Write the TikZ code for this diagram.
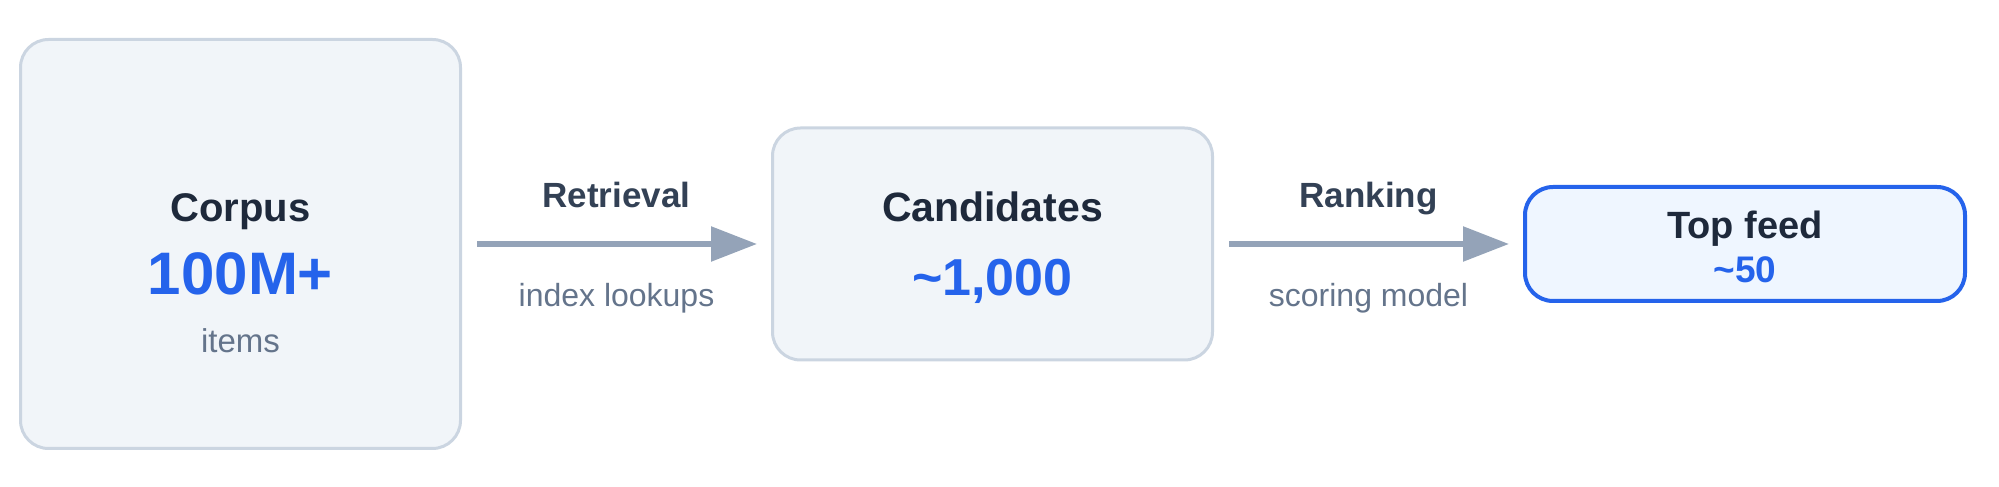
\documentclass[tikz,border=0pt]{standalone}
\usepackage{fontspec}
\setmainfont{Liberation Sans}
\usepackage{xcolor}
\usetikzlibrary{arrows.meta,positioning,calc}

\definecolor{inkdark}{HTML}{1E293B}
\definecolor{inklabel}{HTML}{334155}
\definecolor{inkmuted}{HTML}{64748B}
\definecolor{accent}{HTML}{2563EB}
\definecolor{accentfill}{HTML}{EFF6FF}
\definecolor{boxfill}{HTML}{F1F5F9}
\definecolor{boxline}{HTML}{CBD5E1}
\definecolor{arrowgray}{HTML}{94A3B8}

\begin{document}
\begin{tikzpicture}[node distance=154.5pt, auto, >=Triangle]
    \tikzstyle{stage} = [rectangle, draw=boxline, fill=boxfill, line width=1.5pt, rounded corners=14pt, minimum width=220pt, inner sep=0pt]
    \tikzstyle{final} = [stage, draw=accent, fill=accentfill, line width=2pt]
    \tikzstyle{title} = [inner sep=0pt, anchor=base, text=inkdark, font=\bfseries\fontsize{20.5}{24}\selectfont]
    \tikzstyle{count} = [inner sep=0pt, anchor=base, text=accent, font=\bfseries\fontsize{26}{30}\selectfont]
    \tikzstyle{note} = [inner sep=0pt, anchor=base, text=inkmuted, font=\fontsize{16.5}{20}\selectfont]
    \tikzstyle{steplabel} = [inner sep=0pt, anchor=base, text=inklabel, font=\bfseries\fontsize{17.5}{21}\selectfont]
    \tikzstyle{stepnote} = [inner sep=0pt, anchor=base, text=inkmuted, font=\fontsize{16}{19}\selectfont]
    \tikzstyle{arrow} = [draw=arrowgray, line width=2.8pt, -{Triangle[length=23pt, width=17pt]}, shorten <=7.5pt, shorten >=7pt]

    \useasboundingbox (0,0) rectangle (999.5pt,243.5pt);

    % Nodes
    \node [stage, minimum height=204.5pt] (corpus) at (120.25pt,121.5pt) {};
    \node [stage, minimum height=116pt, right=of corpus] (cand) {};
    \node [final, minimum height=57pt, right=of cand] (top) {};

    % Texts in the boxes
    \node [title, font=\bfseries\fontsize{20}{24}\selectfont] (corpustitle) at ($(corpus.center)+(0,11pt)$) {Corpus};
    \node [count, font=\bfseries\fontsize{30}{34}\selectfont] (corpuscount) at ($(corpus.center)+(0,-25.5pt)$) {100M+};
    \node [note] (corpusnote) at ($(corpus.center)+(0,-54.5pt)$) {items};
    \node [title] (candtitle) at ($(cand.center)+(0,11pt)$) {Candidates};
    \node [count] (candcount) at ($(cand.center)+(0,-25.75pt)$) {\textasciitilde 1,000};
    \node [title, font=\bfseries\fontsize{19}{23}\selectfont] (toptitle) at ($(top.center)+(0,2.5pt)$) {Top feed};
    \node [count, font=\bfseries\fontsize{18.5}{22}\selectfont] (topcount) at ($(top.center)+(0,-19.5pt)$) {\textasciitilde 50};

    % Edges
    \draw [arrow] (corpus) -- (cand)
        node [steplabel, midway, yshift=18pt] (retlabel) {Retrieval}
        node [stepnote, midway, yshift=-31.5pt] (retnote) {index lookups};
    \draw [arrow] (cand) -- (top)
        node [steplabel, midway, yshift=18pt] (ranklabel) {Ranking}
        node [stepnote, midway, yshift=-31.5pt] (ranknote) {scoring model};
\end{tikzpicture}
\end{document}
